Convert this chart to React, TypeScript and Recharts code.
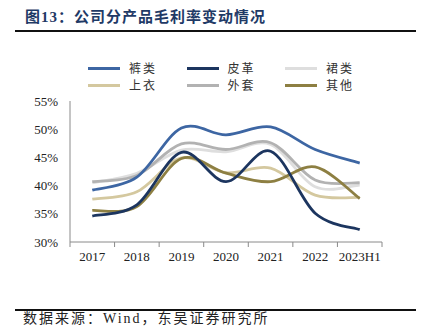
import { LineChart, Line, XAxis, YAxis } from "recharts"

const years = ["2017", "2018", "2019", "2020", "2021", "2022", "2023H1"]
const pants = [39.2, 41.5, 50.2, 49.0, 50.4, 46.4, 44.0]
const leather = [34.6, 36.6, 45.9, 40.7, 46.1, 35.1, 32.2]
const skirts = [40.5, 42.2, 46.3, 46.0, 47.3, 39.8, 40.1]
const tops = [37.6, 38.9, 44.9, 42.3, 43.1, 38.3, 37.9]
const coats = [40.7, 41.8, 47.4, 46.4, 47.6, 41.0, 40.5]
const others = [35.6, 36.3, 44.8, 42.2, 40.7, 43.3, 37.7]
const yTicks = [30, 35, 40, 45, 50, 55]

const series = [
  { key: "pants", name: "裤类", color: "#3d66a3", values: pants },
  { key: "leather", name: "皮革", color: "#1c355f", values: leather },
  { key: "skirts", name: "裙类", color: "#dedede", values: skirts },
  { key: "tops", name: "上衣", color: "#d4c89f", values: tops },
  { key: "coats", name: "外套", color: "#b2b2b2", values: coats },
  { key: "others", name: "其他", color: "#8d7f42", values: others },
]

// draw order: light lines first so the darker ones sit on top
const drawOrder = ["skirts", "coats", "tops", "others", "pants", "leather"]

const data = years.map((year, i) => {
  const row: Record<string, string | number> = { year }
  series.forEach((s) => {
    row[s.key] = s.values[i]
  })
  return row
})

const serif = '"Liberation Serif", "Times New Roman", "Noto Sans CJK SC", serif'
const axisColor = "#8a8a8a"

// excel-like smoothing (catmull-rom through every point)
const smoothCurve = (context: any) => {
  let pts: number[][] = []
  return {
    areaStart() {},
    areaEnd() {},
    lineStart() {
      pts = []
    },
    lineEnd() {
      if (!pts.length) return
      context.moveTo(pts[0][0], pts[0][1])
      for (let i = 0; i < pts.length - 1; i++) {
        const p0 = pts[i - 1] ?? pts[i]
        const p1 = pts[i]
        const p2 = pts[i + 1]
        const p3 = pts[i + 2] ?? p2
        context.bezierCurveTo(
          p1[0] + (p2[0] - p0[0]) / 6,
          p1[1] + (p2[1] - p0[1]) / 6,
          p2[0] - (p3[0] - p1[0]) / 6,
          p2[1] - (p3[1] - p1[1]) / 6,
          p2[0],
          p2[1]
        )
      }
    },
    point(x: number, y: number) {
      pts.push([+x, +y])
    },
  }
}

// tick marks sit between categories (excel style), labels in the middle
function YearTick(props: any) {
  const { x, y, payload, index } = props
  const half = payload.offset ?? 0
  return (
    <g>
      <line x1={x - half} x2={x - half} y1={y} y2={y + 5} stroke={axisColor} />
      {index === years.length - 1 && <line x1={x + half} x2={x + half} y1={y} y2={y + 5} stroke={axisColor} />}
      <text x={x} y={y + 10} dy="0.71em" textAnchor="middle" fill="#222" fontSize={13} fontFamily={serif}>
        {payload.value}
      </text>
    </g>
  )
}

function LegendGrid() {
  return (
    <div style={{ position: "absolute", left: 88, top: 60, display: "grid", gridTemplateColumns: "98.5px 98.5px 98.5px", rowGap: 1 }}>
      {series.map((s) => (
        <div key={s.key} style={{ display: "flex", alignItems: "center", height: 16 }}>
          <span style={{ display: "inline-block", width: 32, height: 3, background: s.color }} />
          <span style={{ marginLeft: 9, fontSize: 12, color: "#333", fontFamily: serif, letterSpacing: 2 }}>{s.name}</span>
        </div>
      ))}
    </div>
  )
}

export default function App() {
  return (
    <div style={{ position: "absolute", left: 0, top: 0, width: 431, height: 327, background: "#fff", fontFamily: serif }}>
      <div
        style={{
          position: "absolute",
          left: 25,
          top: 7,
          fontSize: 15,
          fontWeight: "bold",
          color: "#1f3a66",
          letterSpacing: 1,
          fontFamily: '"Liberation Serif", "Noto Sans CJK SC", serif',
          lineHeight: "20px",
        }}
      >
        图13：公司分产品毛利率变动情况
      </div>
      <div style={{ position: "absolute", left: 15, top: 30, width: 401, height: 2, background: "#111" }} />

      <LegendGrid />

      <div style={{ position: "absolute", left: 0, top: 0 }}>
        <LineChart width={431} height={327} data={data} margin={{ top: 101, right: 49, bottom: 55, left: 10 }}>
          <XAxis
            dataKey="year"
            scale="band"
            height={30}
            tickLine={false}
            tickSize={0}
            tickMargin={0}
            axisLine={{ stroke: axisColor }}
            tick={<YearTick />}
            interval={0}
          />
          <YAxis
            width={60}
            domain={[30, 55]}
            ticks={yTicks}
            tickFormatter={(v: number) => `${v}%`}
            tickLine={false}
            tickSize={0}
            tickMargin={12}
            axisLine={{ stroke: axisColor }}
            tick={{ fill: "#222", fontSize: 13, fontFamily: serif }}
          />
          {drawOrder.map((k) => {
            const s = series.find((x) => x.key === k)!
            return (
              <Line
                key={s.key}
                type={smoothCurve as any}
                dataKey={s.key}
                name={s.name}
                stroke={s.color}
                strokeWidth={2.8}
                dot={false}
                activeDot={false}
                isAnimationActive={false}
              />
            )
          })}
        </LineChart>
      </div>

      <div style={{ position: "absolute", left: 15, top: 309, width: 401, height: 2, background: "#111" }} />
      <div
        style={{
          position: "absolute",
          left: 23,
          top: 311,
          fontSize: 14,
          color: "#222",
          letterSpacing: 2,
          fontFamily: serif,
          lineHeight: "16px",
        }}
      >
        数据来源：Wind，东吴证券研究所
      </div>
    </div>
  )
}
